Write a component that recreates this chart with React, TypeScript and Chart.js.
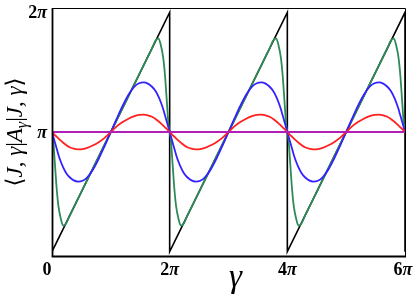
import React, { useEffect, useRef } from "react";
import { Chart, registerables } from "chart.js";

Chart.register(...registerables);

// gamma / pi sample positions for one period (the figure repeats the same period 3 times)
const PERIOD_GAMMA = [0, 0.02, 0.05, 0.08, 0.11, 0.15, 0.19, 0.24, 0.3, 0.37, 0.44, 0.52, 0.6, 0.7, 0.8, 0.9, 1.0, 1.1, 1.2, 1.3, 1.4, 1.48, 1.56, 1.63, 1.7, 1.76, 1.81, 1.85, 1.89, 1.92, 1.95, 1.98, 2.0];
const PERIODS = 3;

// values / pi
const GREEN = [1.0, 0.94, 0.74, 0.54, 0.4, 0.3, 0.245, 0.262, 0.325, 0.392, 0.46, 0.537, 0.614, 0.71, 0.807, 0.904, 1.0, 1.096, 1.193, 1.29, 1.386, 1.463, 1.54, 1.608, 1.675, 1.738, 1.755, 1.7, 1.6, 1.46, 1.26, 1.06, 1.0];
const BLUE = [1.0, 0.965, 0.915, 0.865, 0.815, 0.76, 0.715, 0.67, 0.635, 0.61, 0.6, 0.607, 0.635, 0.7, 0.79, 0.893, 1.0, 1.107, 1.21, 1.3, 1.365, 1.393, 1.4, 1.39, 1.365, 1.33, 1.285, 1.24, 1.185, 1.135, 1.085, 1.035, 1.0];
const RED = [1.0, 0.99, 0.975, 0.962, 0.948, 0.93, 0.914, 0.895, 0.877, 0.865, 0.86, 0.862, 0.872, 0.893, 0.92, 0.955, 1.0, 1.045, 1.08, 1.107, 1.128, 1.138, 1.14, 1.135, 1.123, 1.105, 1.086, 1.07, 1.052, 1.038, 1.025, 1.01, 1.0];
const BLACK_X = [0, 2, 2, 4, 4, 6, 6];
const BLACK_Y = [0.035, 1.965, 0.035, 1.965, 0.035, 1.965, 0.035];
const MAGENTA_X = [0, 6];
const MAGENTA_Y = [1, 1];

const X_TICKS = [0, 2, 4, 6];
const X_TICK_LABELS = ["0", "2π", "4π", "6π"];
const Y_TICKS = [1, 2];
const Y_TICK_LABELS = ["π", "2π"];

function tile(vals: number[]) {
  const pts: { x: number; y: number }[] = [];
  for (let k = 0; k < PERIODS; k++) {
    PERIOD_GAMMA.forEach((g, i) => {
      if (k > 0 && i === 0) return;
      pts.push({ x: g + 2 * k, y: vals[i] });
    });
  }
  return pts;
}

type Seg = { t: string; font: string; dy?: number };

function drawRich(ctx: CanvasRenderingContext2D, segs: Seg[], x: number, y: number, align: "left" | "center" | "right") {
  let total = 0;
  const widths = segs.map((s) => {
    ctx.font = s.font;
    const w = ctx.measureText(s.t).width;
    total += w;
    return w;
  });
  let cx = align === "left" ? x : align === "center" ? x - total / 2 : x - total;
  ctx.textAlign = "left";
  ctx.textBaseline = "alphabetic";
  segs.forEach((s, i) => {
    ctx.font = s.font;
    ctx.fillText(s.t, cx, y + (s.dy || 0));
    cx += widths[i];
  });
}

const SERIF = "'Liberation Serif', 'DejaVu Serif', serif";

function piLabel(label: string, size: number): Seg[] {
  const segs: Seg[] = [];
  for (const ch of label) {
    if (ch === "π") segs.push({ t: ch, font: `italic bold ${size}px ${SERIF}` });
    else segs.push({ t: ch, font: `bold ${size}px ${SERIF}` });
  }
  return segs;
}

const decorPlugin = {
  id: "decor",
  afterDraw(chart: any) {
    const ctx: CanvasRenderingContext2D = chart.ctx;
    const { left, right, top, bottom } = chart.chartArea;
    const xs = chart.scales.x;
    const ys = chart.scales.y;
    ctx.save();
    ctx.strokeStyle = "#000";
    ctx.lineWidth = 1;
    ctx.beginPath();
    ctx.moveTo(left, top + 0.5);
    ctx.lineTo(right + 0.5, top + 0.5);
    ctx.lineTo(right + 0.5, bottom);
    ctx.stroke();
    ctx.lineWidth = 1.8;
    ctx.beginPath();
    ctx.moveTo(left + 0.5, top);
    ctx.lineTo(left + 0.5, bottom + 0.5);
    ctx.lineTo(right + 1, bottom + 0.5);
    ctx.stroke();

    ctx.fillStyle = "#000";
    const fs = 18;
    X_TICKS.forEach((v, i) => {
      let px = xs.getPixelForValue(v);
      if (i === 0) px -= 5;
      if (i === X_TICKS.length - 1) px -= 2;
      drawRich(ctx, piLabel(X_TICK_LABELS[i], fs), px, bottom + 19, "center");
    });
    Y_TICKS.forEach((v, i) => {
      const py = ys.getPixelForValue(v);
      const base = i === Y_TICKS.length - 1 ? py + 10 : py + 6;
      drawRich(ctx, piLabel(Y_TICK_LABELS[i], fs), left - 5, base, "right");
    });

    // x title
    ctx.font = `italic 33px ${SERIF}`;
    ctx.textAlign = "center";
    ctx.textBaseline = "alphabetic";
    ctx.fillText("γ", (left + right) / 2 + 7, 287);

    // y title
    const f = 23;
    const up = `${f}px ${SERIF}`;
    const it = `italic ${f}px ${SERIF}`;
    const sub = `italic ${Math.round(f * 0.7)}px ${SERIF}`;
    const segs: Seg[] = [
      { t: "⟨", font: up },
      { t: "J", font: it },
      { t: ", ", font: up },
      { t: "γ", font: it },
      { t: "|", font: up },
      { t: "A", font: it },
      { t: "γ", font: sub, dy: 5 },
      { t: "|", font: up },
      { t: "J", font: it },
      { t: ", ", font: up },
      { t: "γ", font: it },
      { t: "⟩", font: up },
    ];
    ctx.save();
    ctx.translate(22, (top + bottom) / 2);
    ctx.rotate(-Math.PI / 2);
    drawRich(ctx, segs, 0, 0, "center");
    ctx.restore();
    ctx.restore();
  },
};

export default function App() {
  const ref = useRef<HTMLCanvasElement | null>(null);
  useEffect(() => {
    document.body.style.margin = "0";
    if (!ref.current) return;
    const curve = (label: string, vals: number[], color: string) => ({
      label,
      data: tile(vals),
      borderColor: color,
      borderWidth: 1.8,
      pointRadius: 0,
      cubicInterpolationMode: "monotone" as const,
      fill: false,
    });
    const chart = new Chart(ref.current, {
      type: "line",
      data: {
        datasets: [
          {
            label: "magenta",
            data: MAGENTA_X.map((x, i) => ({ x, y: MAGENTA_Y[i] })),
            borderColor: "#b020b8",
            borderWidth: 1.8,
            pointRadius: 0,
            tension: 0,
          },
          curve("red", RED, "#ff2020"),
          curve("blue", BLUE, "#3322ff"),
          curve("green", GREEN, "#2e8b57"),
          {
            label: "black",
            data: BLACK_X.map((x, i) => ({ x, y: BLACK_Y[i] })),
            borderColor: "#000000",
            borderWidth: 1.6,
            pointRadius: 0,
            tension: 0,
          },
        ],
      },
      options: {
        animation: false,
        responsive: false,
        layout: { padding: { left: 52, right: 10, top: 8, bottom: 38 } },
        plugins: { legend: { display: false }, tooltip: { enabled: false } },
        scales: {
          x: { type: "linear", min: 0, max: 6, display: false },
          y: { type: "linear", min: 0, max: 2, display: false },
        },
      },
      plugins: [decorPlugin],
    });
    return () => chart.destroy();
  }, []);
  return <canvas ref={ref} width={415} height={294} style={{ display: "block" }} />;
}
